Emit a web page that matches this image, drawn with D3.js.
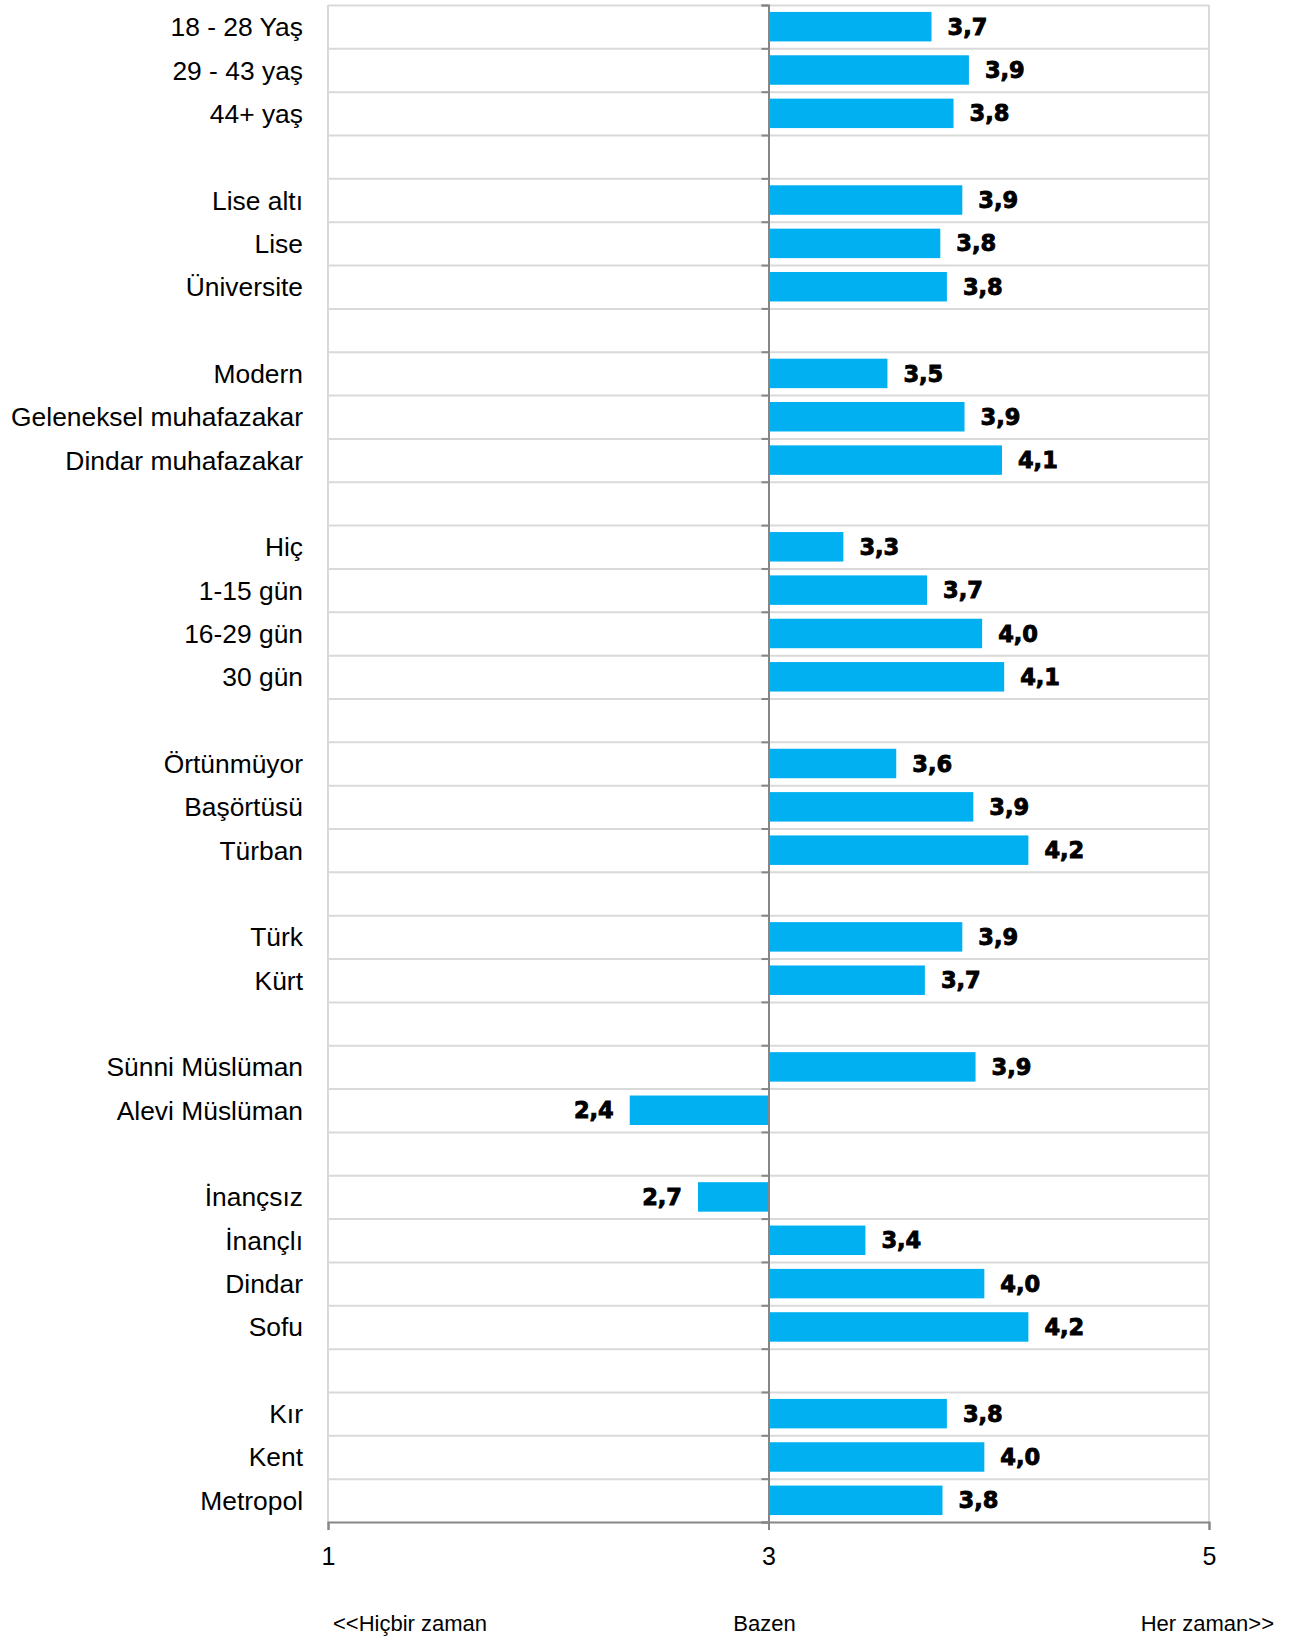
<!DOCTYPE html>
<html>
<head>
<meta charset="utf-8">
<script src="https://cdn.jsdelivr.net/npm/d3@7"></script>
<style>
    body { margin: 0; background: #fff; }
    #chart { width: 1298px; height: 1639px; }
</style>
</head>
<body>
<div id="chart"></div>
<script>
//Datos (filas vacías = separadores de grupo)
const categories = [
    '18 - 28 Yaş', '29 - 43 yaş', '44+ yaş', '',
    'Lise altı', 'Lise', 'Üniversite', '',
    'Modern', 'Geleneksel muhafazakar', 'Dindar muhafazakar', '',
    'Hiç', '1-15 gün', '16-29 gün', '30 gün', '',
    'Örtünmüyor', 'Başörtüsü', 'Türban', '',
    'Türk', 'Kürt', '',
    'Sünni Müslüman', 'Alevi Müslüman', '',
    'İnançsız', 'İnançlı', 'Dindar', 'Sofu', '',
    'Kır', 'Kent', 'Metropol'
];
const values = [
    3.74, 3.91, 3.84, null,
    3.88, 3.78, 3.81, null,
    3.54, 3.89, 4.06, null,
    3.34, 3.72, 3.97, 4.07, null,
    3.58, 3.93, 4.18, null,
    3.88, 3.71, null,
    3.94, 2.37, null,
    2.68, 3.44, 3.98, 4.18, null,
    3.81, 3.98, 3.79
];
const xTicks = [1, 3, 5];
const scaleLabels = ['<<Hiçbir zaman', 'Bazen', 'Her zaman>>'];

const COLOR_BAR = '#00B0F0',
    COLOR_GRID = '#d9d9d9',
    COLOR_AXIS = '#868686';

let data = categories.map(function(c, i) { return { cat: c, value: values[i], row: i }; });

let margin = {top: 5, right: 89, bottom: 117, left: 328},
    width = 1298 - margin.left - margin.right,
    height = 1639 - margin.top - margin.bottom;

let svg = d3.select('#chart')
    .append('svg')
      .attr('width', width + margin.left + margin.right)
      .attr('height', height + margin.top + margin.bottom)
    .append('g')
      .attr('transform', 'translate(' + margin.left + ',' + margin.top + ')');

let x = d3.scaleLinear().domain([1, 5]).range([0, width]);
let y = d3.scaleBand()
    .domain(d3.range(categories.length))
    .range([0, height])
    .paddingInner(0.32)
    .paddingOuter(0.16);
let rows = d3.scaleLinear().domain([0, categories.length]).range([0, height]);

//Rejilla horizontal
svg.append('g')
    .call(d3.axisRight(rows).tickValues(d3.range(categories.length)).tickSize(width).tickFormat(''))
    .call(function(g) {
        g.select('.domain').remove();
        g.selectAll('line').attr('stroke', COLOR_GRID).attr('stroke-width', 2);
    });

//Bordes laterales
svg.append('line').attr('x1', 0).attr('x2', 0).attr('y1', 0).attr('y2', height)
    .attr('stroke', COLOR_GRID).attr('stroke-width', 2);
svg.append('line').attr('x1', width).attr('x2', width).attr('y1', 0).attr('y2', height)
    .attr('stroke', COLOR_GRID).attr('stroke-width', 2);

//Barras
svg.selectAll('.bars')
    .data(data.filter(function(d) { return d.value != null; }))
    .enter()
    .append('rect')
    .attr('class', 'bars')
    .attr('x', function(d) { return x(Math.min(3, d.value)); })
    .attr('y', function(d) { return y(d.row); })
    .attr('width', function(d) { return Math.abs(x(d.value) - x(3)); })
    .attr('height', y.bandwidth())
    .attr('fill', COLOR_BAR);

//Etiquetas de valor
svg.selectAll('.val')
    .data(data.filter(function(d) { return d.value != null; }))
    .enter()
    .append('text')
    .attr('class', 'val')
    .attr('x', function(d) { return d.value >= 3 ? x(d.value) + 16 : x(d.value) - 16; })
    .attr('y', function(d) { return y(d.row) + y.bandwidth() / 2; })
    .attr('dy', '0.36em')
    .attr('text-anchor', function(d) { return d.value >= 3 ? 'start' : 'end'; })
    .style('font-family', '"DejaVu Sans", sans-serif')
    .style('font-weight', 'bold')
    .style('font-size', '22.5px')
    .attr('fill', '#000')
    .attr('stroke', '#000')
    .attr('stroke-width', 0.9)
    .text(function(d) { return d3.format('.1f')(d.value).replace('.', ','); });

//Eje central (valor 3)
svg.append('g')
    .attr('transform', 'translate(' + x(3) + ',0)')
    .call(d3.axisLeft(rows).tickValues(d3.range(categories.length + 1)).tickSize(7).tickFormat(''))
    .call(function(g) {
        g.select('.domain').attr('stroke', COLOR_AXIS).attr('stroke-width', 2);
        g.selectAll('line').attr('stroke', COLOR_AXIS).attr('stroke-width', 2);
    });

//Etiquetas de categoría
svg.selectAll('.cat')
    .data(data.filter(function(d) { return d.cat != ''; }))
    .enter()
    .append('text')
    .attr('class', 'cat')
    .attr('x', -25)
    .attr('y', function(d) { return y(d.row) + y.bandwidth() / 2; })
    .attr('dy', '0.36em')
    .attr('text-anchor', 'end')
    .style('font-family', '"Liberation Sans", Arial, sans-serif')
    .style('font-size', '26.4px')
    .attr('fill', '#000')
    .text(function(d) { return d.cat; });

//Eje X
svg.append('g')
    .attr('transform', 'translate(0,' + height + ')')
    .call(d3.axisBottom(x).tickValues(xTicks).tickSize(8).tickPadding(17).tickFormat(d3.format('d')))
    .call(function(g) {
        g.select('.domain').attr('stroke', COLOR_AXIS).attr('stroke-width', 2);
        g.selectAll('line').attr('stroke', COLOR_AXIS).attr('stroke-width', 2);
        g.selectAll('text')
            .style('font-family', '"Liberation Sans", Arial, sans-serif')
            .style('font-size', '25px')
            .attr('fill', '#000');
    });

//Leyenda de escala
let scaleText = svg.append('g').attr('transform', 'translate(0,' + (height + 109) + ')');
scaleText.append('text').attr('x', 5).attr('text-anchor', 'start').text(scaleLabels[0]);
scaleText.append('text').attr('x', x(3) - 4).attr('text-anchor', 'middle').text(scaleLabels[1]);
scaleText.append('text').attr('x', width + 65).attr('text-anchor', 'end').text(scaleLabels[2]);
scaleText.selectAll('text')
    .style('font-family', '"Liberation Sans", Arial, sans-serif')
    .style('font-size', '22px')
    .attr('fill', '#000');
</script>
</body>
</html>
